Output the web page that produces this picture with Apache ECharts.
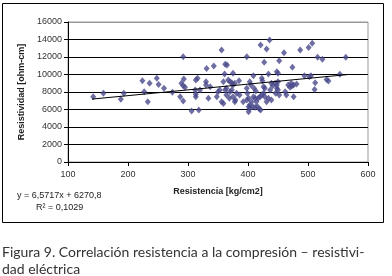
<!DOCTYPE html>
<html>
<head>
<meta charset="utf-8">
<script src="https://cdn.jsdelivr.net/npm/echarts@6/dist/echarts.min.js"></script>
<style>
  html, body { margin: 0; padding: 0; background: #fff; }
  #chart { width: 392px; height: 276px; }
</style>
</head>
<body>
<div id="chart"></div>
<script>
// puntos: [resistencia kg/cm2, resistividad ohm-cm]
const puntos = [
  [142, 7460], [159, 7850], [188, 7160], [193, 7850], [224, 9290], [227, 8030],
  [233, 6900], [236, 8990], [248, 9560], [251, 8850], [260, 8420], [274, 7960],
  [287, 7460], [292, 12040], [293, 9490], [289, 8990], [292, 8720], [295, 8530],
  [292, 6970], [306, 5830], [318, 5940], [312, 8230], [313, 9370], [316, 9560],
  [313, 7740], [313, 7460], [320, 8230], [331, 10700], [334, 7280], [330, 9180],
  [330, 8800], [337, 8610], [343, 10970], [348, 7460], [350, 8030], [353, 8230],
  [356, 12800], [356, 6900], [359, 6700], [361, 10060], [362, 11170], [365, 11080],
  [359, 9180], [367, 9370], [370, 9180], [373, 9060], [362, 8230], [364, 8420],
  [370, 8030], [373, 8230], [375, 8800], [378, 8990], [364, 7660], [369, 7280],
  [375, 7460], [379, 7090], [381, 7850], [386, 7660], [375, 10130], [378, 6900],
  [385, 9290], [392, 6900], [398, 7090], [398, 8420], [399, 7850], [401, 7280],
  [398, 12040], [403, 9180], [405, 8800], [409, 9870], [409, 7460], [412, 7280],
  [410, 8420], [413, 8110], [406, 6900], [403, 6510], [401, 6320], [403, 6130],
  [408, 6320], [412, 6250], [416, 6320], [419, 6060], [421, 5940], [401, 5750],
  [414, 6900], [417, 7280], [420, 7460], [423, 7660], [426, 7850], [428, 7460],
  [434, 7280], [437, 8230], [426, 8610], [428, 8420], [439, 7090], [431, 6900],
  [423, 9560], [424, 9290], [439, 8990], [441, 8720], [421, 13370], [436, 13940],
  [431, 12910], [427, 11390], [434, 10060], [448, 10320], [450, 10130], [450, 9180],
  [445, 8990], [448, 8800], [448, 8420], [450, 8230], [452, 7660], [446, 7850],
  [452, 11580], [460, 12500], [462, 8030], [464, 7660], [467, 8800], [472, 8990],
  [476, 8800], [481, 8910], [470, 8530], [473, 8690], [476, 7460], [474, 10820],
  [487, 12800], [501, 13100], [507, 13560], [494, 9870], [502, 9750], [505, 9870],
  [512, 9060], [511, 8300], [516, 11960], [524, 11730], [531, 9440], [534, 9250],
  [553, 10020], [563, 11960]
];
// linea de tendencia y = 6,5717x + 6270,8 (extremos)
const tendencia = [[140, 7190], [565, 9984]];
const ecuacion = ['y = 6,5717x + 6270,8', 'R² = 0,1029'];
const leyenda = 'Figura 9. Correlación resistencia a la compresión – resistivi-\ndad eléctrica';

const chart = echarts.init(document.getElementById('chart'));

const option = {
  animation: false,
  textStyle: { fontFamily: 'Liberation Sans, Arial, sans-serif' },
  grid: { left: 68, top: 22, right: 24, bottom: 114, show: true, borderColor: '#999', borderWidth: 1 },
  xAxis: {
    type: 'value', min: 100, max: 600, interval: 100,
    name: 'Resistencia [kg/cm2]', nameLocation: 'middle', nameGap: 25,
    nameTextStyle: { fontSize: 9, fontWeight: 'bold', color: '#222' },
    axisLine: { lineStyle: { color: '#000' } },
    axisTick: { show: true, length: 4, lineStyle: { color: '#000' } },
    axisLabel: { fontSize: 9, color: '#333', margin: 8 },
    splitLine: { show: false }
  },
  yAxis: {
    type: 'value', min: 0, max: 16000, interval: 2000,
    name: 'Resistividad [ohm-cm]', nameLocation: 'middle', nameGap: 34,
    nameTextStyle: { fontSize: 9, fontWeight: 'bold', color: '#222' },
    axisLine: { show: true, lineStyle: { color: '#000' } },
    axisTick: { show: true, length: 4, lineStyle: { color: '#000' } },
    axisLabel: { fontSize: 9, color: '#333', margin: 6, formatter: v => String(v) },
    splitLine: { show: true, lineStyle: { color: ['#000', '#000', '#000', '#000', '#000', '#000', '#000', '#000', '#999'], width: 1 } }
  },
  graphic: [
    { type: 'rect', shape: { x: 2.5, y: 3.5, width: 381, height: 219 }, style: { fill: 'none', stroke: '#000', lineWidth: 1 }, z: -1 },
    { type: 'text', left: 17, top: 191, style: { text: ecuacion[0], fontSize: 9, fill: '#222', fontFamily: 'Liberation Sans, Arial' } },
    { type: 'text', left: 36, top: 203, style: { text: ecuacion[1], fontSize: 9, fill: '#222', fontFamily: 'Liberation Sans, Arial' } },
    { type: 'text', left: 2, top: 244, style: { text: leyenda, fontSize: 14, lineHeight: 17, fill: '#333', fontFamily: 'Lato, Noto Sans' } }
  ],
  series: [
    {
      type: 'scatter', data: puntos, symbol: 'diamond', symbolSize: [6, 7],
      itemStyle: { color: '#4a4a8c' }
    },
    {
      type: 'line', data: tendencia, symbol: 'none',
      lineStyle: { color: '#000', width: 1 }, z: 3
    }
  ]
};

chart.setOption(option);
</script>
</body>
</html>
